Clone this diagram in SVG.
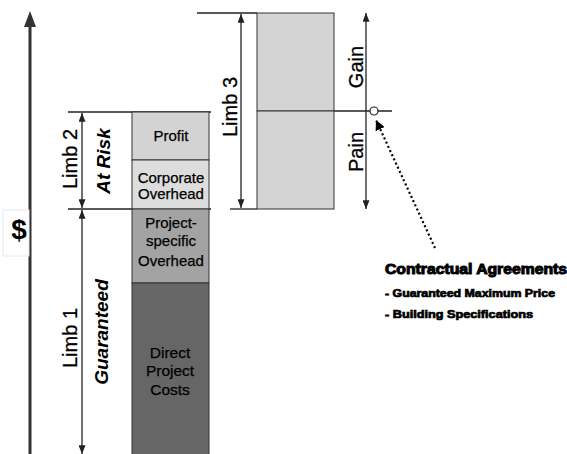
<svg xmlns="http://www.w3.org/2000/svg" width="567" height="454" viewBox="0 0 567 454">
<defs>
<marker id="ah" viewBox="0 0 10 8" refX="10" refY="4" markerWidth="9" markerHeight="7" orient="auto-start-reverse" markerUnits="userSpaceOnUse"><path d="M0,0 L10,4 L0,8 z" fill="#222"/></marker>
<marker id="ahd" viewBox="0 0 10 10" refX="10" refY="5" markerWidth="10" markerHeight="10" orient="auto" markerUnits="userSpaceOnUse"><path d="M0,0 L10,5 L0,10 z" fill="#000"/></marker>
</defs>
<style>
text{font-family:"Liberation Sans",Arial,sans-serif;fill:#000}
.lab{font-size:20px;stroke:#000;stroke-width:0.3}
.it{font-size:19px;font-weight:bold;font-style:italic}
.box{font-size:15px;text-anchor:middle;stroke:#000;stroke-width:0.25}
.blk{stroke:#333;stroke-width:1}
.thin{stroke:#222;stroke-width:1.3;fill:none}
.hd{font-weight:bold;stroke:#000;stroke-width:1}
.sub{font-weight:bold;stroke:#000;stroke-width:0.7;font-size:10.5px}
</style>
<rect width="567" height="454" fill="#fff"/>
<g id="axis">
<line x1="30" y1="25" x2="30" y2="454" stroke="#333" stroke-width="3"/>
<polygon points="30,11 24,27 36,27" fill="#333"/>
<rect x="3" y="210" width="26" height="46" fill="#fff" stroke="#e8e8e8" stroke-width="1"/>
<text x="19" y="239" text-anchor="middle" font-size="28" font-weight="bold">$</text>
</g>
<g id="connectors">
<line class="thin" x1="68" y1="112" x2="211" y2="112"/>
<line class="thin" x1="68" y1="209" x2="211" y2="209"/>
<line class="thin" x1="197" y1="13" x2="257" y2="13"/>
<line class="thin" x1="230" y1="209" x2="257" y2="209"/>
<line class="thin" x1="334" y1="111" x2="392" y2="111"/>
<line class="thin" x1="82" y1="113" x2="82" y2="208" marker-start="url(#ah)" marker-end="url(#ah)"/>
<line class="thin" x1="82" y1="210" x2="82" y2="454" marker-start="url(#ah)" marker-end="url(#ah)"/>
<line class="thin" x1="241" y1="14" x2="241" y2="208" marker-start="url(#ah)" marker-end="url(#ah)"/>
<line class="thin" x1="366" y1="13" x2="366" y2="209" marker-start="url(#ah)" marker-end="url(#ah)"/>
<line x1="435" y1="248" x2="376" y2="120" stroke="#000" stroke-width="2.2" stroke-dasharray="2,2.6" marker-end="url(#ahd)"/>
</g>
<g id="labels">
<text class="lab" transform="translate(77,159) rotate(-90)" text-anchor="middle">Limb 2</text>
<text class="it" transform="translate(110,161) rotate(-90)" text-anchor="middle">At Risk</text>
<text class="lab" transform="translate(77,338) rotate(-90)" text-anchor="middle">Limb 1</text>
<text class="it" transform="translate(108,332) rotate(-90)" text-anchor="middle">Guaranteed</text>
<text class="lab" transform="translate(237,107) rotate(-90)" text-anchor="middle">Limb 3</text>
<text class="lab" transform="translate(363,67) rotate(-90)" text-anchor="middle">Gain</text>
<text class="lab" transform="translate(363,152) rotate(-90)" text-anchor="middle">Pain</text>
</g>
<g id="profit">
<rect class="blk" x="132" y="112" width="77" height="48" fill="#d3d3d3"/>
<text class="box" x="171" y="141">Profit</text>
</g>
<g id="corporate-overhead">
<rect class="blk" x="132" y="160" width="77" height="49" fill="#dddddd"/>
<text class="box" x="171" y="183">Corporate</text>
<text class="box" x="171" y="199">Overhead</text>
</g>
<g id="project-specific-overhead">
<rect class="blk" x="132" y="209" width="77" height="74" fill="#a3a3a3"/>
<text class="box" x="171" y="228">Project-</text>
<text class="box" x="171" y="246">specific</text>
<text class="box" x="171" y="266">Overhead</text>
</g>
<g id="direct-project-costs">
<rect class="blk" x="132" y="283" width="77" height="175" fill="#666666"/>
<text class="box" x="170" y="358" style="font-size:15.5px">Direct</text>
<text class="box" x="170" y="376" style="font-size:15.5px">Project</text>
<text class="box" x="170" y="395" style="font-size:15.5px">Costs</text>
</g>
<g id="limb3-block">
<rect class="blk" x="257" y="13" width="77" height="98" fill="#d4d4d4"/>
<rect class="blk" x="257" y="111" width="77" height="98" fill="#d4d4d4"/>
</g>
<g id="pivot">
<circle cx="374" cy="111" r="4" fill="#fff" stroke="#222" stroke-width="1.2"/>
</g>
<g id="contractual-agreements">
<text class="hd" x="385" y="274" font-size="14" textLength="182" lengthAdjust="spacingAndGlyphs">Contractual Agreements</text>
<text class="sub" x="385" y="297" textLength="170" lengthAdjust="spacingAndGlyphs">- Guaranteed Maximum Price</text>
<text class="sub" x="385" y="318" textLength="148" lengthAdjust="spacingAndGlyphs">- Building Specifications</text>
</g>
</svg>
